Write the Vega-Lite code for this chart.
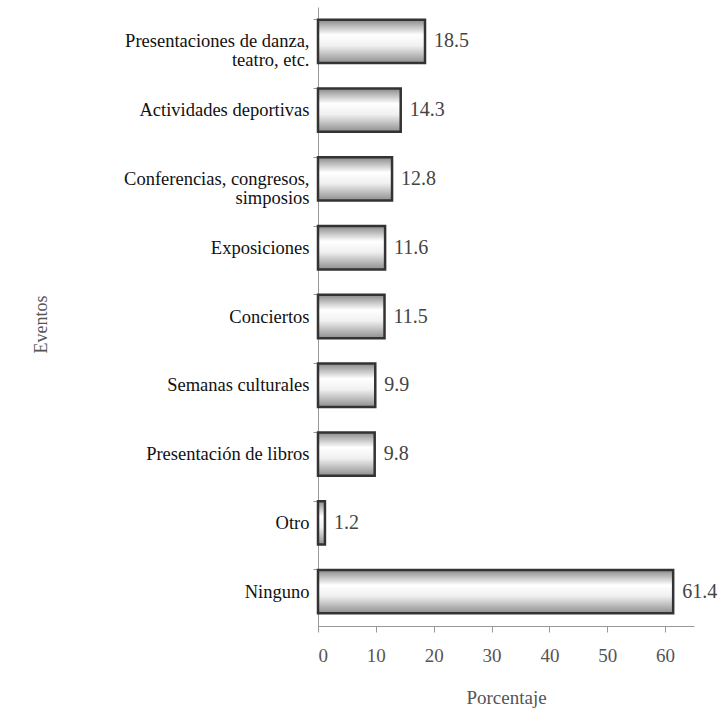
{
  "$schema": "https://vega.github.io/schema/vega-lite/v6.json",
  "autosize": {"type": "none"},
  "width": 376,
  "height": 619,
  "padding": {"left": 318, "top": 7, "right": 32, "bottom": 90},
  "background": "white",
  "config": {
    "view": {"stroke": null},
    "font": "Liberation Serif"
  },
  "data": {
    "values": [
      {"evento": "Presentaciones de danza,|teatro, etc.", "porcentaje": 18.5},
      {"evento": "Actividades deportivas", "porcentaje": 14.3},
      {"evento": "Conferencias, congresos,|simposios", "porcentaje": 12.8},
      {"evento": "Exposiciones", "porcentaje": 11.6},
      {"evento": "Conciertos", "porcentaje": 11.5},
      {"evento": "Semanas culturales", "porcentaje": 9.9},
      {"evento": "Presentación de libros", "porcentaje": 9.8},
      {"evento": "Otro", "porcentaje": 1.2},
      {"evento": "Ninguno", "porcentaje": 61.4}
    ]
  },
  "encoding": {
    "y": {
      "field": "evento",
      "type": "nominal",
      "sort": null,
      "scale": {"paddingInner": 0.37, "paddingOuter": 0.185},
      "axis": {
        "title": "Eventos",
        "titleFont": "Liberation Serif",
        "titleFontSize": 18,
        "titleFontWeight": "normal",
        "titleColor": "#555555",
        "titleX": -268,
        "titleY": 317,
        "labelExpr": "split(datum.label, '|')",
        "labelFont": "Liberation Serif",
        "labelFontSize": 18.5,
        "labelColor": "#111111",
        "labelLineHeight": 19,
        "labelPadding": 4,
        "labelLimit": 400,
        "tickSize": 5,
        "tickColor": "#999999",
        "domainColor": "#999999",
        "bandPosition": 0
      }
    },
    "x": {
      "field": "porcentaje",
      "type": "quantitative",
      "scale": {"domain": [0, 65], "nice": false},
      "axis": {
        "title": "Porcentaje",
        "values": [0, 10, 20, 30, 40, 50, 60],
        "grid": false,
        "titleFont": "Liberation Serif",
        "titleFontSize": 19,
        "titleFontWeight": "normal",
        "titleColor": "#555555",
        "titlePadding": 23,
        "labelFont": "Liberation Serif",
        "labelFontSize": 19,
        "labelColor": "#555555",
        "labelPadding": 14,
        "tickSize": 6,
        "tickColor": "#999999",
        "domainColor": "#999999"
      }
    }
  },
  "layer": [
    {
      "mark": {
        "type": "bar",
        "stroke": "#333333",
        "strokeWidth": 2.5,
        "color": {
          "gradient": "linear",
          "x1": 0, "y1": 0, "x2": 0, "y2": 1,
          "stops": [
            {"offset": 0, "color": "#8a8a8a"},
            {"offset": 0.35, "color": "#ffffff"},
            {"offset": 0.6, "color": "#f0f0f0"},
            {"offset": 1, "color": "#8f8f8f"}
          ]
        }
      }
    },
    {
      "mark": {
        "type": "text",
        "align": "left",
        "baseline": "middle",
        "dx": 9,
        "font": "Liberation Serif",
        "fontSize": 20,
        "color": "#444444"
      },
      "encoding": {
        "text": {"field": "porcentaje", "type": "quantitative", "format": ".1f"}
      }
    }
  ]
}
